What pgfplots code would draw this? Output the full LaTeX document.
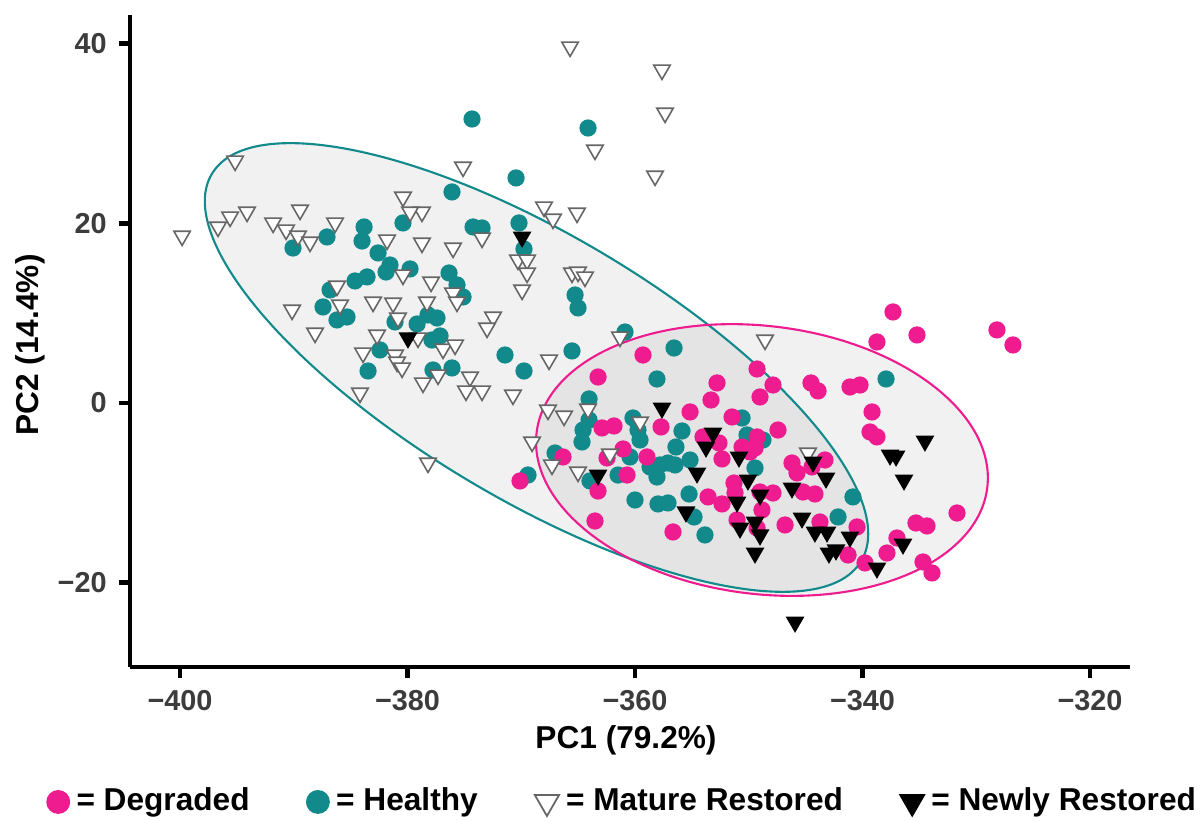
\documentclass[border=0pt]{standalone}
\usepackage{pgfplots}
\pgfplotsset{compat=1.18}
\usepackage{fontspec}
\setmainfont{Liberation Sans}
\definecolor{pinkc}{HTML}{EE1C8E}
\definecolor{tealc}{HTML}{12898A}
\definecolor{ticklab}{HTML}{3C3C3C}

\pgfplotstableread{
x y
-374.33 31.61
-364.13 30.61
-370.46 25.05
-376.09 23.49
-374.24 19.59
-373.45 19.48
-370.20 20.04
-369.76 17.14
-376.35 14.47
-375.65 13.14
-375.12 11.80
-365.27 12.02
-365.01 10.58
-378.20 9.80
-377.41 9.46
-377.85 7.01
-377.14 7.46
-371.43 5.34
-365.54 5.79
-360.88 7.90
-356.57 6.12
-380.40 20.04
-383.82 19.59
-384.00 18.03
-387.08 18.48
-390.07 17.25
-382.59 16.70
-381.54 15.36
-381.89 14.58
-379.78 14.92
-384.62 13.58
-383.56 14.03
-386.81 12.58
-387.43 10.69
-386.20 9.24
-385.32 9.57
-381.10 9.02
-379.16 8.79
-382.42 5.90
-383.47 3.56
-377.76 3.67
-376.09 3.90
-369.76 3.56
-367.03 -5.57
-369.41 -8.02
-358.07 2.67
-364.04 0.45
-364.04 -1.89
-364.57 -3.01
-364.66 -4.34
-360.18 -1.67
-359.74 -3.01
-359.56 -4.12
-355.87 -3.12
-356.40 -4.90
-360.44 -6.01
-358.68 -7.12
-357.80 -6.90
-357.10 -6.68
-356.48 -6.90
-358.07 -8.24
-355.16 -6.35
-361.49 -8.02
-363.96 -8.68
-360.00 -10.80
-357.98 -11.24
-357.10 -11.13
-355.25 -10.13
-354.81 -12.69
-353.85 -14.69
-350.59 -1.67
-350.15 -3.56
-348.75 -4.12
-349.45 -7.24
-342.15 -12.69
-340.84 -10.46
-337.93 2.67
}\healthy

\pgfplotstableread{
x y
-359.30 5.34
-363.25 2.89
-355.16 -1.00
-357.71 -2.67
-362.90 -2.78
-361.85 -2.56
-361.05 -5.12
-358.95 -6.01
-366.33 -6.01
-362.46 -6.12
-360.70 -8.02
-370.11 -8.68
-363.25 -9.80
-363.52 -13.14
-356.66 -14.36
-352.79 2.23
-353.32 0.33
-351.47 -1.56
-354.02 -3.78
-352.62 -4.45
-352.35 -6.23
-353.58 -10.46
-352.35 -11.24
-351.30 -8.91
-351.21 -10.02
-351.03 -13.02
-349.27 3.78
-347.87 2.00
-344.53 2.23
-343.91 1.34
-341.10 1.78
-340.22 2.00
-349.01 0.67
-339.16 -1.00
-339.34 -3.23
-338.73 -3.78
-347.43 -3.01
-349.27 -3.78
-349.45 -5.01
-350.59 -4.90
-349.89 -5.45
-346.20 -6.68
-345.76 -7.79
-343.30 -6.35
-344.44 -7.12
-349.01 -9.91
-347.87 -10.02
-345.23 -9.91
-344.18 -10.13
-348.84 -11.91
-349.27 -13.92
-346.81 -13.58
-343.74 -13.25
-340.48 -13.80
-341.27 -16.92
-339.78 -17.81
-337.32 10.13
-338.73 6.79
-335.21 7.57
-328.18 8.13
-326.77 6.46
-331.69 -12.25
-335.30 -13.36
-334.33 -13.69
-336.97 -15.03
-337.85 -16.70
-334.68 -17.70
-333.89 -18.92
}\degraded

\pgfplotstableread{
x y
-365.71 39.63
-357.63 37.07
-357.36 32.28
-363.52 28.16
-375.12 26.27
-358.24 25.27
-368.00 21.82
-367.21 20.48
-365.10 21.15
-373.45 18.37
-376.00 17.25
-378.73 21.26
-378.73 17.81
-370.29 15.92
-369.49 15.92
-369.49 14.47
-365.54 14.47
-365.01 14.58
-364.40 14.03
-369.93 12.58
-377.93 13.47
-376.00 12.25
-375.65 11.24
-378.29 11.24
-372.48 9.57
-373.01 8.35
-376.88 6.01
-375.82 6.46
-361.32 7.35
-367.56 4.79
-395.16 26.94
-399.82 18.59
-396.66 19.59
-395.60 20.71
-394.11 21.26
-389.45 21.48
-391.82 20.04
-390.68 19.26
-389.63 18.59
-388.57 17.92
-386.37 20.04
-380.40 22.93
-379.78 21.26
-381.80 18.15
-386.20 13.02
-380.40 14.25
-390.15 10.35
-385.93 10.91
-383.03 11.24
-381.27 11.13
-380.84 9.46
-388.13 7.79
-382.68 7.57
-379.08 7.24
-383.91 5.57
-381.10 5.34
-380.92 4.56
-380.48 3.90
-377.32 3.12
-374.51 2.89
-378.64 2.23
-374.86 1.34
-373.45 1.34
-384.18 1.11
-370.73 0.89
-367.65 -0.78
-366.24 -1.45
-369.05 -4.34
-367.30 -6.90
-378.20 -6.68
-364.13 -0.67
-359.56 -2.12
-362.20 -5.68
-365.01 -7.68
-344.79 -5.57
-348.57 7.01
}\mature

\pgfplotstableread{
x y
-369.93 18.48
-379.96 7.24
-357.63 -0.56
-363.25 -8.02
-355.52 -12.13
-354.55 -7.79
-353.14 -3.34
-353.76 -4.90
-350.86 -6.01
-351.03 -11.02
-350.77 -13.92
-350.07 -8.57
-349.01 -10.24
-346.20 -9.46
-344.35 -6.57
-343.21 -8.35
-345.32 -12.80
-349.45 -13.25
-349.01 -14.69
-344.18 -14.36
-343.12 -14.36
-341.10 -14.92
-349.45 -16.70
-342.95 -16.70
-342.33 -16.36
-338.73 -18.37
-334.51 -4.23
-337.58 -5.79
-337.05 -5.90
-336.35 -8.57
-336.44 -15.70
-345.93 -24.38
}\newly

\begin{document}
\begin{tikzpicture}
\path[use as bounding box] (0,0) rectangle (12.01,8.21);
\begin{axis}[
  at={(1.30cm,1.54cm)}, anchor=south west,
  scale only axis, width=10cm, height=6.52cm,
  xmin=-404.4, xmax=-316.48, ymin=-29.39, ymax=43.19,
  axis x line=bottom, axis y line=left,
  axis line style={-, line width=1.3pt, black},
  xtick={-400,-380,-360,-340,-320},
  xticklabels={−400,−380,−360,−340,−320},
  ytick={-20,0,20,40},
  yticklabels={−20,0,20,40},
  tick align=outside, major tick length=0.11cm,
  tick style={line width=1.3pt, black},
  ticklabel style={font=\fontsize{8.2}{10}\selectfont\bfseries, text=ticklab},
  xlabel={PC1 (79.2\%)}, ylabel={PC2 (14.4\%)},
  label style={font=\fontsize{9}{11}\selectfont\bfseries},
  xlabel style={at={(axis description cs:0.496,-0.112)}, anchor=center},
  ylabel style={at={(axis description cs:-0.100,0.494)}, anchor=center},
  legend style={at={(axis description cs:0.495,-0.207)}, anchor=center,
    draw=none, fill=none, legend columns=4,
    font=\fontsize{9}{11}\selectfont\bfseries,
    /tikz/every even column/.append style={column sep=0.5cm}},
  legend image code/.code={\draw[#1] plot coordinates {(0.1cm,0cm)};},
]
\addlegendimage{only marks, mark=*, mark size=3.2pt, draw=pinkc, fill=pinkc}
\addlegendentry{= Degraded}
\addlegendimage{only marks, mark=*, mark size=3.2pt, draw=tealc, fill=tealc}
\addlegendentry{= Healthy}
\addlegendimage{only marks, mark=triangle*, mark size=4pt, mark options={rotate=180, fill=white, draw=black!60, line width=0.5pt}}
\addlegendentry{= Mature Restored}
\addlegendimage{only marks, mark=triangle*, mark size=4pt, mark options={rotate=180, fill=black, draw=black}}
\addlegendentry{= Newly Restored}

\fill[black, fill opacity=0.055] (axis cs:-368.66,3.95) circle [x radius=3.78cm, y radius=1.32cm, rotate=-30.8];
\fill[black, fill opacity=0.055] (axis cs:-348.84,-6.35) circle [x radius=2.27cm, y radius=1.34cm, rotate=-7];
\draw[tealc, line width=0.6pt] (axis cs:-368.66,3.95) circle [x radius=3.78cm, y radius=1.32cm, rotate=-30.8];
\draw[pinkc, line width=0.6pt] (axis cs:-348.84,-6.35) circle [x radius=2.27cm, y radius=1.34cm, rotate=-7];

\addplot[only marks, mark=*, mark size=2.25pt, draw=tealc, fill=tealc, forget plot] table {\healthy};
\addplot[only marks, mark=*, mark size=2.25pt, draw=pinkc, fill=pinkc, forget plot] table {\degraded};
\addplot[only marks, mark=triangle*, mark size=2.7pt, mark options={rotate=180, fill=white, draw=black!60, line width=0.45pt}, forget plot] table {\mature};
\addplot[only marks, mark=triangle*, mark size=2.7pt, mark options={rotate=180, fill=black, draw=black}, forget plot] table {\newly};
\end{axis}
\end{tikzpicture}
\end{document}
